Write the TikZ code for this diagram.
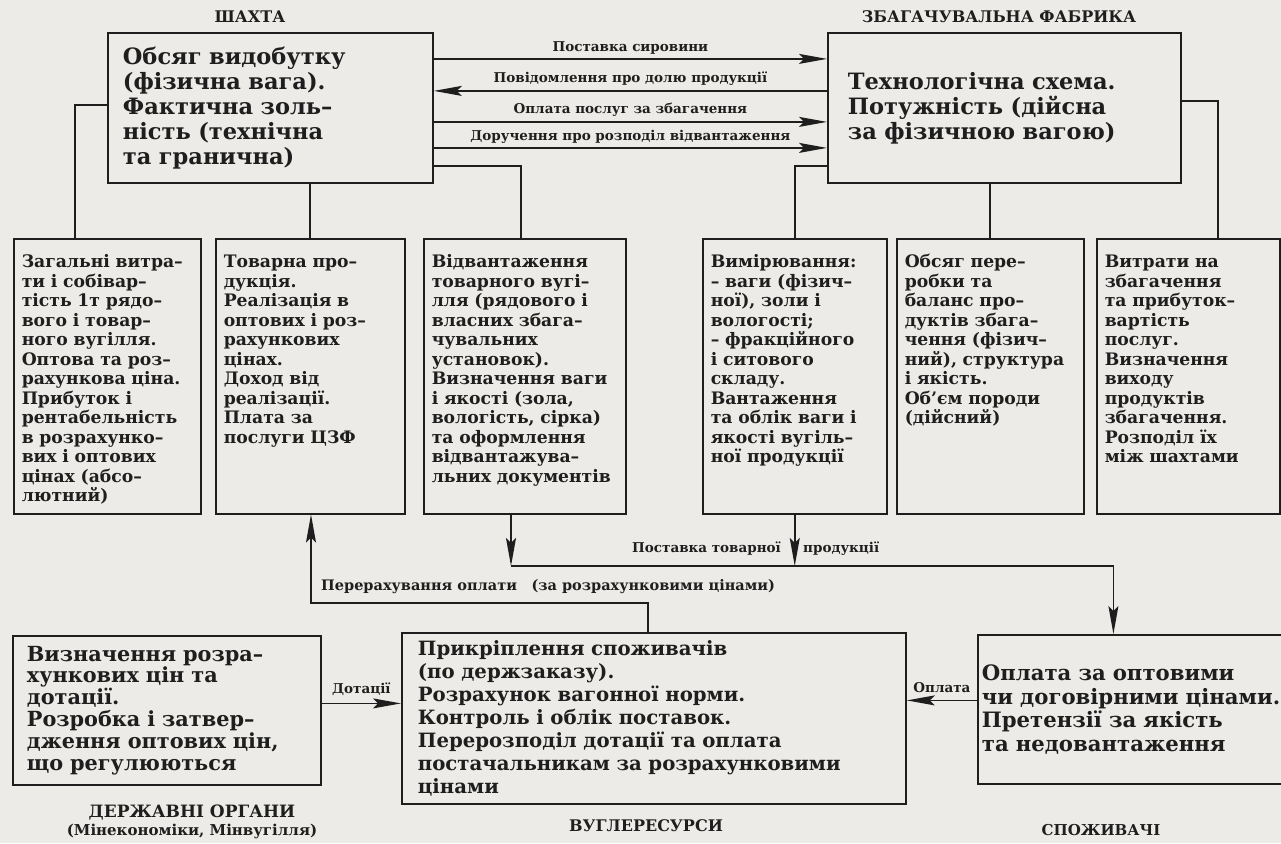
\documentclass[tikz,border=0pt]{standalone}
\usepackage{fontspec}
\setmainfont{DejaVu Serif}
\usetikzlibrary{arrows.meta}

\definecolor{paper}{RGB}{236,235,231}
\definecolor{ink}{RGB}{30,30,30}

\begin{document}
\begin{tikzpicture}[x=1pt,y=-1pt,
    flow/.style={line width=1.6pt, draw=ink, -{Stealth[length=28pt,width=10pt,inset=5pt]}},
    link/.style={line width=1.6pt, draw=ink},
    topbox/.style={draw=ink, line width=1.8pt, anchor=north west, align=left, minimum height=150pt,
                   text=ink, font=\fontsize{22.5}{25}\selectfont\bfseries},
    midbox/.style={draw=ink, line width=1.5pt, anchor=north west, align=left, text width=#1,
                   inner xsep=8pt, inner ysep=0pt, text height=29pt, text depth=246pt,
                   text=ink, font=\fontsize{17.2}{19.5}\selectfont\bfseries},
    lowbox/.style={draw=ink, line width=1.8pt, anchor=north west, align=left,
                   text=ink, font=\fontsize{19.7}{23}\selectfont\bfseries},
    lbl/.style={inner sep=1pt, text=ink, font=\fontsize{13.5}{15}\selectfont\bfseries},
    heading/.style={inner sep=1pt, text=ink, font=\fontsize{16}{18}\selectfont\bfseries}]

    % Paper:
    \fill[paper] (0,0) rectangle (1281,843);
    \useasboundingbox (0,0) rectangle (1281,843);

    % Top row:
    \node[heading] (minecap) at (250,17) {ШАХТА};
    \node[heading] (plantcap) at (999,17) {ЗБАГАЧУВАЛЬНА ФАБРИКА};

    \node[topbox, minimum width=325pt, text width=295pt, inner xsep=15pt] (mine) at (107,32)
        {Обсяг видобутку\\(фізична вага).\\Фактична золь–\\ність (технічна\\та гранична)};
    \node[topbox, minimum width=353pt, text width=313pt, inner xsep=20pt] (plant) at (827,32)
        {Технологічна схема.\\Потужність (дійсна\\за фізичною вагою)};

    % Flows between mine and plant:
    \draw[flow] ([yshift=49pt]mine.east) -- ([yshift=49pt]plant.west)
        node[lbl, midway, above=3pt] {Поставка сировини};
    \draw[flow] ([yshift=17pt]plant.west) -- ([yshift=17pt]mine.east)
        node[lbl, midway, above=4pt] {Повідомлення про долю продукції};
    \draw[flow] ([yshift=-14pt]mine.east) -- ([yshift=-14pt]plant.west)
        node[lbl, midway, above=4pt] {Оплата послуг за збагачення};
    \draw[flow] ([yshift=-40pt]mine.east) -- ([yshift=-40pt]plant.west)
        node[lbl, midway, above=3pt] {Доручення про розподіл відвантаження};

    % Middle row:
    \node[midbox=171pt] (cost) at (13,238)
        {Загальні витра–\\ти і собівар–\\тість 1т рядо–\\вого і товар–\\ного вугілля.\\Оптова та роз–\\рахункова ціна.\\Прибуток і\\рентабельність\\в розрахунко–\\вих і оптових\\цінах (абсо–\\лютний)};
    \node[midbox=173pt] (sales) at (215,238)
        {Товарна про–\\дукція.\\Реалізація в\\оптових і роз–\\рахункових\\цінах.\\Доход від\\реалізації.\\Плата за\\послуги ЦЗФ};
    \node[midbox=186pt] (ship) at (423,238)
        {Відвантаження\\товарного вугі–\\лля (рядового і\\власних збага–\\чувальних\\установок).\\Визначення ваги\\і якості (зола,\\вологість, сірка)\\та оформлення\\відвантажува–\\льних документів};
    \node[midbox=168pt] (meas) at (702,238)
        {Вимірювання:\\– ваги (фізич–\\ної), золи і\\вологості;\\– фракційного\\і ситового\\складу.\\Вантаження\\та облік ваги і\\якості вугіль–\\ної продукції};
    \node[midbox=171pt] (bal) at (896,238)
        {Обсяг пере–\\робки та\\баланс про–\\дуктів збага–\\чення (фізич–\\ний), структура\\і якість.\\Об'єм породи\\(дійсний)};
    \node[midbox=167pt] (serv) at (1096,238)
        {Витрати на\\збагачення\\та прибуток–\\вартість\\послуг.\\Визначення\\виходу\\продуктів\\збагачення.\\Розподіл їх\\між шахтами};

    % Links from the top boxes:
    \draw[link] ([yshift=3pt]mine.west) -| ([xshift=-32pt]cost.north);
    \draw[link] (mine.south -| sales.north) -- (sales.north);
    \draw[link] ([yshift=-58pt]mine.east) -| ([xshift=-4pt]ship.north);
    \draw[link] ([yshift=-58pt]plant.west) -| (meas.north);
    \draw[link] (plant.south -| bal.north) -- (bal.north);
    \draw[link] ([yshift=7pt]plant.east) -| ([xshift=30pt]serv.north);

    % Bottom row:
    \node[lowbox, minimum width=308pt, minimum height=149pt, text width=280pt, inner xsep=14pt,
          font=\fontsize{20.8}{21.8}\selectfont\bfseries] (gov) at (12,635)
        {Визначення розра–\\хункових цін та\\дотації.\\Розробка і затвер–\\дження оптових цін,\\що регулюються};
    \node[lowbox, minimum width=504pt, minimum height=171pt, text width=472pt, inner xsep=16pt] (coal) at (401,632)
        {Прикріплення споживачів\\(по держзаказу).\\Розрахунок вагонної норми.\\Контроль і облік поставок.\\Перерозподіл дотації та оплата\\постачальникам за розрахунковими\\цінами};
    \node[lowbox, minimum width=313pt, minimum height=149pt, text width=305pt, inner xsep=4pt,
          font=\fontsize{21.2}{23.5}\selectfont\bfseries] (cons) at (977,634)
        {Оплата за оптовими\\чи договірними цінами.\\Претензії за якість\\та недовантаження};

    \node[heading, font=\fontsize{17}{19}\selectfont\bfseries] (govcap) at (192,813) {ДЕРЖАВНІ ОРГАНИ};
    \node[heading, font=\fontsize{15}{17}\selectfont\bfseries] (govsub) at (192,831) {(Мінекономіки, Мінвугілля)};
    \node[heading] (coalcap) at (646,826) {ВУГЛЕРЕСУРСИ};
    \node[heading, font=\fontsize{15}{17}\selectfont\bfseries] (conscap) at (1101,830) {СПОЖИВАЧІ};

    % Delivery of commercial coal:
    \coordinate (deliv) at (511,566);
    \draw[flow] (ship.south -| deliv) -- (deliv);
    \draw[flow] (meas.south) -- (meas.south |- deliv);
    \draw[flow] (deliv) -| ([xshift=-21pt]cons.north);
    \node[lbl, anchor=east] (delivl) at (782,549) {Поставка товарної};
    \node[lbl, anchor=west] (delivr) at (802,549) {продукції};

    % Recalculation of payment:
    \coordinate (recalc) at (311,603);
    \draw[flow] ([xshift=-6pt]coal.north) |- (recalc) -- (sales.south -| recalc);
    \node[lbl, anchor=west, font=\fontsize{14.5}{16}\selectfont\bfseries] (recalcl) at (320,587)
        {Перерахування оплати\quad(за розрахунковими цінами)};

    % Subsidies and payment:
    \draw[flow] ([yshift=7pt]gov.east) -- ([yshift=7pt]gov.east -| coal.west)
        node[lbl, midway, above=6pt] {Дотації};
    \draw[flow] ([yshift=9pt]cons.west) -- ([yshift=9pt]cons.west -| coal.east)
        node[lbl, midway, above=6pt] {Оплата};
\end{tikzpicture}
\end{document}
